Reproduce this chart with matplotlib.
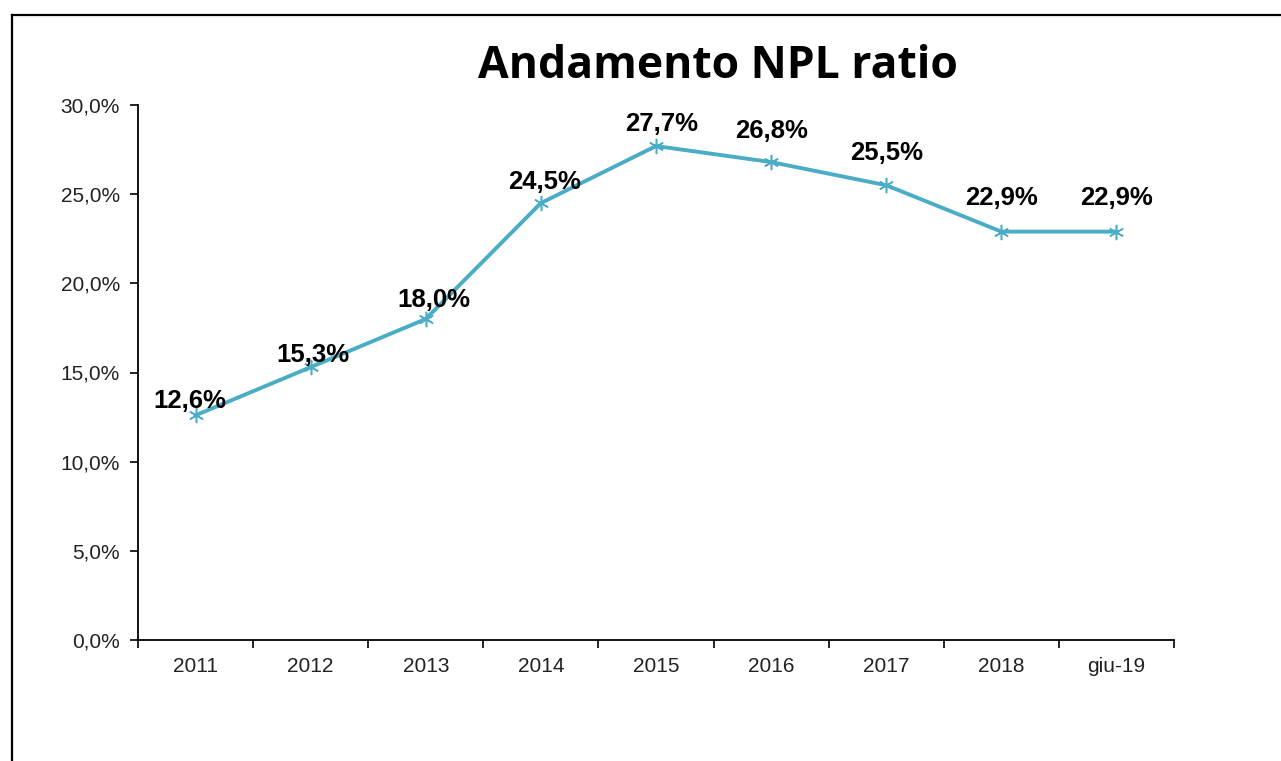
import matplotlib
matplotlib.use("Agg")
import matplotlib.pyplot as plt
from matplotlib.lines import Line2D

categories = ["2011", "2012", "2013", "2014", "2015", "2016", "2017", "2018", "giu-19"]
npl_ratio = [12.6, 15.3, 18.0, 24.5, 27.7, 26.8, 25.5, 22.9, 22.9]
y_ticks = [0, 5, 10, 15, 20, 25, 30]

# label offsets from each point to the label centre (points), as in the original
label_dy = [10.5, 9, 14, 15.5, 15.5, 22.5, 23.5, 24, 24]
label_dx = [-4, 1.5, 6, 3, 4, 0, 0, 0, 0]

line_color = "#4BACC6"

fig = plt.figure(figsize=(12.81, 7.61), dpi=100)
W, H = 1281, 761
ax = fig.add_axes([138 / W, 1 - 640 / H, (1174 - 138) / W, (640 - 105) / H])

x = list(range(len(categories)))
ax.plot(x, npl_ratio, color=line_color, lw=2.8, marker=(6, 2, 0), ms=11,
        mew=1.1, mec=line_color, zorder=3)

for xi, v, dx, dy in zip(x, npl_ratio, label_dx, label_dy):
    ax.annotate(f"{v:.1f}%".replace(".", ","), (xi, v), xytext=(dx, dy),
                textcoords="offset points", ha="center", va="center",
                fontsize=18.5, fontweight="bold", family="Liberation Sans",
                color="black", zorder=4)

ax.set_xlim(-0.5, len(categories) - 0.5)
ax.set_ylim(0, 30)
ax.set_yticks(y_ticks)
ax.set_yticklabels([f"{t:.1f}%".replace(".", ",") for t in y_ticks])
ax.set_xticks([i + 0.5 for i in range(-1, len(categories))], minor=False)
ax.set_xticklabels([])
ax.set_xticks(x, minor=True)
ax.set_xticklabels(categories, minor=True)
ax.tick_params(axis="x", which="major", length=6, width=1.2, direction="out")
ax.tick_params(axis="x", which="minor", length=0, pad=12)
ax.tick_params(axis="y", length=6, width=1.2, direction="out", pad=7)
for lab in ax.get_xticklabels(minor=True) + ax.get_yticklabels():
    lab.set_family("Liberation Sans")
    lab.set_fontsize(15)
    lab.set_color("#222222")

ax.spines["top"].set_visible(False)
ax.spines["right"].set_visible(False)
ax.spines["left"].set_linewidth(1.3)
ax.spines["bottom"].set_linewidth(1.3)

fig.text(718 / W, 1 - 66 / H, "Andamento NPL ratio", ha="center", va="center",
         fontsize=32, fontweight="bold", family="Open Sans")

# outer frame (top and left edges visible)
fig.add_artist(Line2D([12 / W, 1], [1 - 15 / H, 1 - 15 / H], color="black", lw=1.6))
fig.add_artist(Line2D([12 / W, 12 / W], [0, 1 - 15 / H], color="black", lw=1.6))

fig.savefig("out.png", dpi=100)
